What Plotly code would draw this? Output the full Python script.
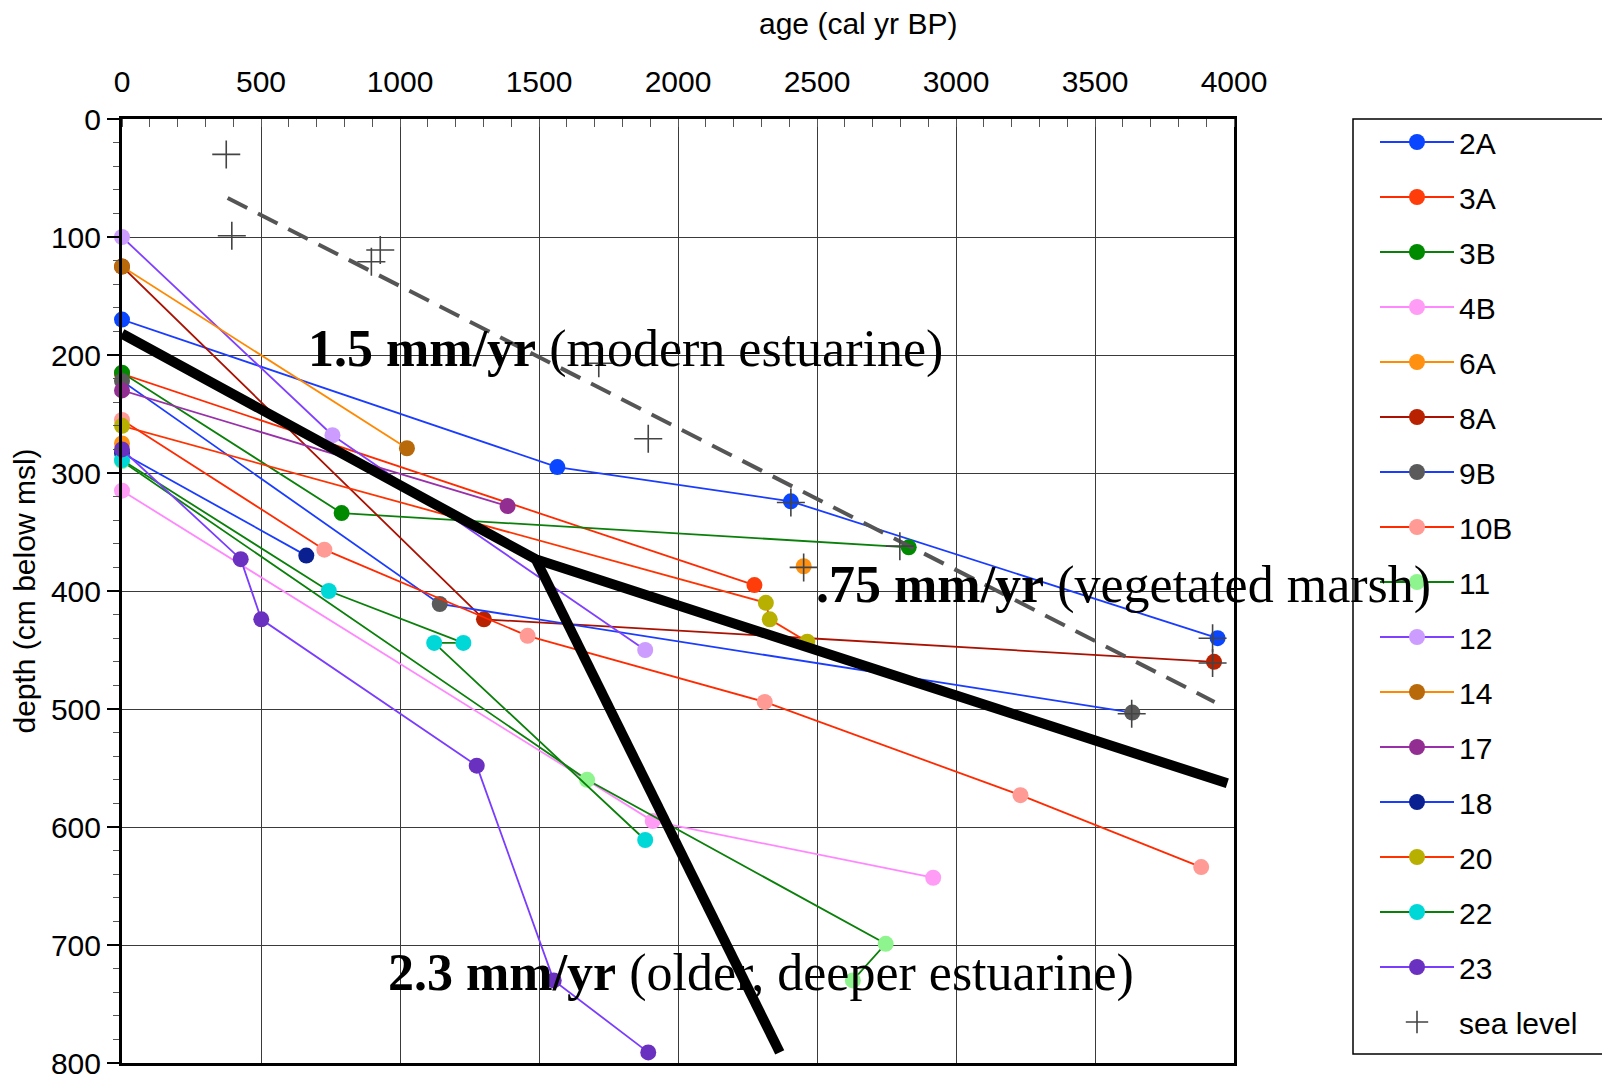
import plotly.graph_objects as go

# ---------------- data (age in cal yr BP, depth in cm below msl) ----------------
age_2A = [0, 1566, 2406, 3941]
depth_2A = [170, 295, 324, 440]
age_3A = [0, 2275]
depth_3A = [216, 395]
age_3B = [0, 790, 2830]
depth_3B = [215, 334, 363]
age_4B = [0, 1909, 2918]
depth_4B = [315, 595, 643]
age_6A = [0, None, 2452]
depth_6A = [275, None, 379]
age_8A = [0, 1302, 3928]
depth_8A = [125, 424, 460]
age_9B = [0, 1143, 3634]
depth_9B = [222, 411, 503]
age_10B = [0, 728, 1459, 2312, 3232, 3882]
depth_10B = [255, 365, 438, 494, 573, 634]
age_11 = [0, 1673, 2747, 2629]
depth_11 = [290, 560, 699, 730]
age_12 = [0, 757, 1882]
depth_12 = [100, 268, 450]
age_14 = [0, 1025]
depth_14 = [125, 279]
age_17 = [0, 1387]
depth_17 = [230, 328]
age_18 = [0, 663]
depth_18 = [283, 370]
age_20 = [0, 2316, 2330, 2465]
depth_20 = [260, 410, 424, 443]
age_22 = [0, 744, 1228, 1123, 1882]
depth_22 = [289, 400, 444, 444, 611]
age_23 = [0, 427, 501, 1276, 1553, 1893]
depth_23 = [280, 373, 424, 548, 730, 791]

sea_age = [375, 395, 897, 929, 1715, 1893, 2406, 2798, 2452, 3923, 3923, 3632]
sea_depth = [30, 99, 121, 111, 207, 271, 325, 362, 380, 440, 461, 504]

trend_age = [380, 3930]
trend_depth = [67, 494]

rate_upper_age = [0, 1488, 3976]
rate_upper_depth = [182, 373, 563]
rate_lower_age = [1488, 2366]
rate_lower_depth = [373, 791]

x_ticks = [0, 500, 1000, 1500, 2000, 2500, 3000, 3500, 4000]
y_ticks = [0, 100, 200, 300, 400, 500, 600, 700, 800]

series = [
    ("2A", age_2A, depth_2A, "#1a3cff", "#0a45ff"),
    ("3A", age_3A, depth_3A, "#ff2a00", "#ff3d0a"),
    ("3B", age_3B, depth_3B, "#0a800a", "#008a00"),
    ("4B", age_4B, depth_4B, "#ff88ff", "#ff9cf5"),
    ("6A", age_6A, depth_6A, "#ff8c00", "#ff9010"),
    ("8A", age_8A, depth_8A, "#aa1100", "#b82200"),
    ("9B", age_9B, depth_9B, "#1a3cff", "#5a5a5a"),
    ("10B", age_10B, depth_10B, "#ff2a00", "#ff9a94"),
    ("11", age_11, depth_11, "#0a800a", "#8ef58e"),
    ("12", age_12, depth_12, "#8040ff", "#cc9cff"),
    ("14", age_14, depth_14, "#ff8800", "#b8690a"),
    ("17", age_17, depth_17, "#9930aa", "#922d92"),
    ("18", age_18, depth_18, "#1a3cff", "#0a2090"),
    ("20", age_20, depth_20, "#ff3300", "#b8b000"),
    ("22", age_22, depth_22, "#0a800a", "#00d8d8"),
    ("23", age_23, depth_23, "#7a3cff", "#6a30c0"),
]

SANS = "Liberation Sans, Arial, Helvetica, sans-serif"
SERIF = "Liberation Serif, Times New Roman, serif"

# page body has an 8px default margin -> compensate
ML, MT = 114, 111
PW, PH = 1112, 944
W, H = 1610, 1077


def px_to_paper_x(px):
    return (px - ML) / PW


def px_to_paper_y(py):
    return (MT + PH - py) / PH


fig = go.Figure()

for name, xs, ys, lc, mc in series:
    fig.add_trace(go.Scatter(
        x=xs, y=ys, name=name, legendgroup=name, mode="lines+markers",
        line=dict(color=lc, width=1.8),
        marker=dict(color=mc, size=16, line=dict(width=0)),
        connectgaps=False, cliponaxis=False,
    ))

fig.add_trace(go.Scatter(
    x=trend_age, y=trend_depth, mode="lines", showlegend=False,
    line=dict(color="#555555", width=4, dash="22px,12px"),
))
fig.add_trace(go.Scatter(
    x=sea_age, y=sea_depth, name="sea level", legendgroup="sea level", mode="markers",
    marker=dict(symbol="cross-thin", size=20, line=dict(color="#444444", width=1.6)),
    cliponaxis=False,
))
fig.add_trace(go.Scatter(
    x=rate_upper_age, y=rate_upper_depth, mode="lines", showlegend=False,
    line=dict(color="black", width=10),
))
fig.add_trace(go.Scatter(
    x=rate_lower_age, y=rate_lower_depth, mode="lines", showlegend=False,
    line=dict(color="black", width=10),
))

annotations = [
    dict(x=661, y=195, text="<b>1.5 mm/yr</b> (modern estuarine)"),
    dict(x=2488, y=395, text="<b>.75 mm/yr</b> (vegetated marsh)"),
    dict(x=948, y=724, text="<b>2.3 mm/yr</b> (older, deeper estuarine)"),
]
for a in annotations:
    fig.add_annotation(x=a["x"], y=a["y"], xref="x", yref="y", text=a["text"],
                       showarrow=False, xanchor="left", yanchor="middle",
                       font=dict(family=SERIF, size=52, color="black"))

# top axis title (placed off-centre like the original)
fig.add_annotation(x=px_to_paper_x(850), y=px_to_paper_y(15), xref="paper", yref="paper",
                   text="age (cal yr BP)", showarrow=False, xanchor="center", yanchor="middle",
                   font=dict(family=SANS, size=30, color="black"))

# legend frame (extends beyond the right edge as in the original)
fig.add_shape(type="rect", xref="paper", yref="paper",
              x0=px_to_paper_x(1345), x1=px_to_paper_x(1800),
              y0=px_to_paper_y(1046), y1=px_to_paper_y(111),
              line=dict(color="black", width=1.5), fillcolor="rgba(0,0,0,0)")

fig.update_layout(
    width=W, height=H,
    margin=dict(l=ML, r=W - ML - PW, t=MT, b=H - MT - PH, autoexpand=False),
    paper_bgcolor="white", plot_bgcolor="white",
    font=dict(family=SANS, size=30, color="black"),
    showlegend=True,
    legend=dict(
        xref="container", yref="container",
        x=1367 / W, y=1 - 108 / H, xanchor="left", yanchor="top",
        borderwidth=0, bgcolor="rgba(255,255,255,0)",
        font=dict(family=SANS, size=30, color="black"),
        itemwidth=74, tracegroupgap=13, traceorder="grouped",
        maxheight=1050,
    ),
    xaxis=dict(
        side="top", range=[0, 4000], tickvals=x_ticks,
        showgrid=True, gridcolor="#3a3a3a", gridwidth=1.3,
        ticks="", showline=True, linecolor="black", linewidth=3, mirror=True,
        zeroline=False, ticklabelstandoff=12,
        minor=dict(dtick=100, ticks="inside", ticklen=8, tickcolor="#555555", tickwidth=1, showgrid=False),
        tickfont=dict(family=SANS, size=30, color="black"),
    ),
    yaxis=dict(
        range=[800, 0], tickvals=y_ticks,
        showgrid=True, gridcolor="#3a3a3a", gridwidth=1.3,
        ticks="outside", ticklen=12, tickwidth=1.5, tickcolor="black",
        showline=True, linecolor="black", linewidth=3, mirror=True, zeroline=False,
        minor=dict(dtick=20, ticks="outside", ticklen=6, tickcolor="#555555", tickwidth=1, showgrid=False),
        tickfont=dict(family=SANS, size=30, color="black"),
        title=dict(text="depth (cm below msl)", standoff=10,
                   font=dict(family=SANS, size=30, color="black")),
    ),
)

fig.write_html("out.html")
